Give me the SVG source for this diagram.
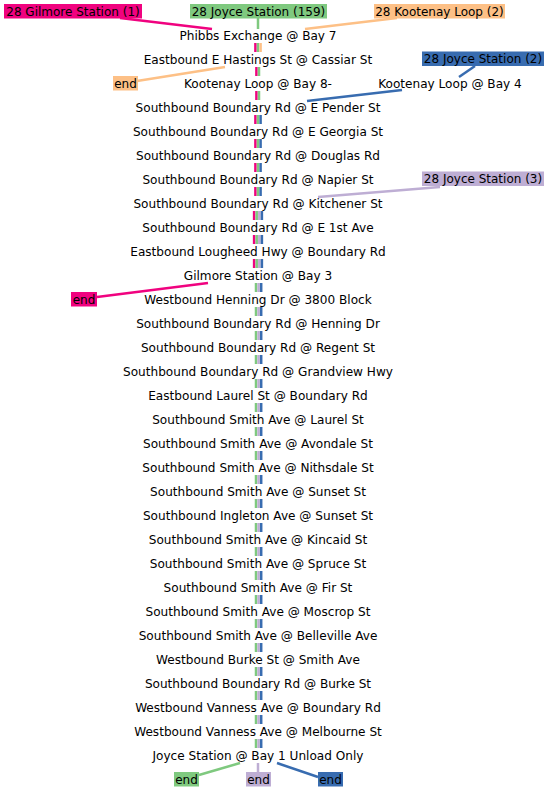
<svg xmlns="http://www.w3.org/2000/svg" width="550" height="792" viewBox="0 0 550 792">
<style>
text{font-family:"DejaVu Sans",sans-serif;font-size:12px;fill:#000;text-anchor:middle}
#stops text,#s-kootenay4 text{font-size:12.1px}
.pk{stroke:#f0027f}.gr{stroke:#7fc97f}.or{stroke:#fdc086}.bl{stroke:#386cb0}.pu{stroke:#beaed4}
.seg line{stroke-width:2.6}
.con line{stroke-width:2.5;fill:none}
.bpk{fill:#f0027f}.bgr{fill:#7fc97f}.bor{fill:#fdc086}.bbl{fill:#386cb0}.bpu{fill:#beaed4}
</style>
<rect width="550" height="792" fill="#fff"/>
<g id="connectors" class="con">
<line class="pk" x1="120" y1="18" x2="212" y2="29"/>
<line class="gr" x1="258" y1="18" x2="258" y2="29"/>
<line class="or" x1="397" y1="18" x2="305" y2="29"/>
<line class="or" x1="225" y1="67" x2="137" y2="81"/>
<line class="bl" x1="475" y1="66" x2="459" y2="77"/>
<line class="bl" x1="402" y1="90" x2="307" y2="101"/>
<line class="pu" x1="440" y1="187" x2="318" y2="197"/>
<line class="pk" x1="208" y1="283" x2="97" y2="297"/>
<line class="gr" x1="240" y1="763" x2="199" y2="775"/>
<line class="pu" x1="258" y1="763" x2="258" y2="773"/>
<line class="bl" x1="277" y1="763" x2="318" y2="777"/>
<g class="seg">
<line class="pk" x1="255.4" y1="43" x2="255.4" y2="52"/><line class="gr" x1="258" y1="43" x2="258" y2="52"/><line class="or" x1="260.6" y1="43" x2="260.6" y2="52"/>
<line class="pk" x1="256.4" y1="67" x2="256.4" y2="76"/><line class="gr" x1="259" y1="67" x2="259" y2="76"/>
<line class="pk" x1="256.4" y1="91" x2="256.4" y2="100"/><line class="gr" x1="259" y1="91" x2="259" y2="100"/>
<line class="pk" x1="255.4" y1="115" x2="255.4" y2="124"/><line class="gr" x1="258" y1="115" x2="258" y2="124"/><line class="bl" x1="260.6" y1="115" x2="260.6" y2="124"/>
<line class="pk" x1="255.4" y1="139" x2="255.4" y2="148"/><line class="gr" x1="258" y1="139" x2="258" y2="148"/><line class="bl" x1="260.6" y1="139" x2="260.6" y2="148"/>
<line class="pk" x1="255.4" y1="163" x2="255.4" y2="172"/><line class="gr" x1="258" y1="163" x2="258" y2="172"/><line class="bl" x1="260.6" y1="163" x2="260.6" y2="172"/>
<line class="pk" x1="255.4" y1="187" x2="255.4" y2="196"/><line class="gr" x1="258" y1="187" x2="258" y2="196"/><line class="bl" x1="260.6" y1="187" x2="260.6" y2="196"/>
<line class="pk" x1="254.1" y1="211" x2="254.1" y2="220"/><line class="gr" x1="256.7" y1="211" x2="256.7" y2="220"/><line class="pu" x1="259.3" y1="211" x2="259.3" y2="220"/><line class="bl" x1="261.9" y1="211" x2="261.9" y2="220"/>
<line class="pk" x1="254.1" y1="235" x2="254.1" y2="244"/><line class="gr" x1="256.7" y1="235" x2="256.7" y2="244"/><line class="pu" x1="259.3" y1="235" x2="259.3" y2="244"/><line class="bl" x1="261.9" y1="235" x2="261.9" y2="244"/>
<line class="pk" x1="254.1" y1="259" x2="254.1" y2="268"/><line class="gr" x1="256.7" y1="259" x2="256.7" y2="268"/><line class="pu" x1="259.3" y1="259" x2="259.3" y2="268"/><line class="bl" x1="261.9" y1="259" x2="261.9" y2="268"/>
</g>
<g class="seg" id="gpb">
<line class="gr" x1="256" y1="283" x2="256" y2="292"/><line class="pu" x1="258.6" y1="283" x2="258.6" y2="292"/><line class="bl" x1="261.2" y1="283" x2="261.2" y2="292"/>
</g>
<use href="#gpb" y="24"/><use href="#gpb" y="48"/><use href="#gpb" y="72"/><use href="#gpb" y="96"/>
<use href="#gpb" y="120"/><use href="#gpb" y="144"/><use href="#gpb" y="168"/><use href="#gpb" y="192"/>
<use href="#gpb" y="216"/><use href="#gpb" y="240"/><use href="#gpb" y="264"/><use href="#gpb" y="288"/>
<use href="#gpb" y="312"/><use href="#gpb" y="336"/><use href="#gpb" y="360"/><use href="#gpb" y="384"/>
<use href="#gpb" y="408"/><use href="#gpb" y="432"/><use href="#gpb" y="456"/>
</g>
<g id="l-gilmore1"><rect class="bpk" x="4" y="4" width="138" height="14.5"/><text x="73" y="15.5">28 Gilmore Station (1)</text></g>
<g id="l-joyce159"><rect class="bgr" x="190" y="4" width="137" height="14.5"/><text x="258.5" y="15.5">28 Joyce Station (159)</text></g>
<g id="l-kootenay2"><rect class="bor" x="374" y="4" width="131" height="14.5"/><text x="439.5" y="15.5">28 Kootenay Loop (2)</text></g>
<g id="l-joyce2"><rect class="bbl" x="422" y="51.5" width="122" height="14.5"/><text x="483" y="63">28 Joyce Station (2)</text></g>
<g id="l-joyce3"><rect class="bpu" x="422" y="171.5" width="122" height="14.5"/><text x="483" y="183">28 Joyce Station (3)</text></g>
<g id="e-orange"><rect class="bor" x="113" y="76" width="25" height="14.5"/><text x="125.5" y="87.5">end</text></g>
<g id="e-pink"><rect class="bpk" x="71" y="292" width="26" height="14.5"/><text x="84" y="303.5">end</text></g>
<g id="e-green"><rect class="bgr" x="174" y="772" width="25" height="14.5"/><text x="186.5" y="783.5">end</text></g>
<g id="e-purple"><rect class="bpu" x="246" y="772" width="25" height="14.5"/><text x="258.5" y="783.5">end</text></g>
<g id="e-blue"><rect class="bbl" x="318" y="772" width="25" height="14.5"/><text x="330.5" y="783.5">end</text></g>
<g id="s-kootenay4"><text x="450" y="87.5">Kootenay Loop @ Bay 4</text></g>
<g id="stops" transform="translate(0,0.5)">
<g id="s01"><text x="258" y="39">Phibbs Exchange @ Bay 7</text></g>
<g id="s02"><text x="258" y="63">Eastbound E Hastings St @ Cassiar St</text></g>
<g id="s03"><text x="258" y="87">Kootenay Loop @ Bay 8-</text></g>
<g id="s04"><text x="258" y="111">Southbound Boundary Rd @ E Pender St</text></g>
<g id="s05"><text x="258" y="135">Southbound Boundary Rd @ E Georgia St</text></g>
<g id="s06"><text x="258" y="159">Southbound Boundary Rd @ Douglas Rd</text></g>
<g id="s07"><text x="258" y="183">Southbound Boundary Rd @ Napier St</text></g>
<g id="s08"><text x="258" y="207">Southbound Boundary Rd @ Kitchener St</text></g>
<g id="s09"><text x="258" y="231">Southbound Boundary Rd @ E 1st Ave</text></g>
<g id="s10"><text x="258" y="255">Eastbound Lougheed Hwy @ Boundary Rd</text></g>
<g id="s11"><text x="258" y="279">Gilmore Station @ Bay 3</text></g>
<g id="s12"><text x="258" y="303">Westbound Henning Dr @ 3800 Block</text></g>
<g id="s13"><text x="258" y="327">Southbound Boundary Rd @ Henning Dr</text></g>
<g id="s14"><text x="258" y="351">Southbound Boundary Rd @ Regent St</text></g>
<g id="s15"><text x="258" y="375">Southbound Boundary Rd @ Grandview Hwy</text></g>
<g id="s16"><text x="258" y="399">Eastbound Laurel St @ Boundary Rd</text></g>
<g id="s17"><text x="258" y="423">Southbound Smith Ave @ Laurel St</text></g>
<g id="s18"><text x="258" y="447">Southbound Smith Ave @ Avondale St</text></g>
<g id="s19"><text x="258" y="471">Southbound Smith Ave @ Nithsdale St</text></g>
<g id="s20"><text x="258" y="495">Southbound Smith Ave @ Sunset St</text></g>
<g id="s21"><text x="258" y="519">Southbound Ingleton Ave @ Sunset St</text></g>
<g id="s22"><text x="258" y="543">Southbound Smith Ave @ Kincaid St</text></g>
<g id="s23"><text x="258" y="567">Southbound Smith Ave @ Spruce St</text></g>
<g id="s24"><text x="258" y="591">Southbound Smith Ave @ Fir St</text></g>
<g id="s25"><text x="258" y="615">Southbound Smith Ave @ Moscrop St</text></g>
<g id="s26"><text x="258" y="639">Southbound Smith Ave @ Belleville Ave</text></g>
<g id="s27"><text x="258" y="663">Westbound Burke St @ Smith Ave</text></g>
<g id="s28"><text x="258" y="687">Southbound Boundary Rd @ Burke St</text></g>
<g id="s29"><text x="258" y="711">Westbound Vanness Ave @ Boundary Rd</text></g>
<g id="s30"><text x="258" y="735">Westbound Vanness Ave @ Melbourne St</text></g>
<g id="s31"><text x="258" y="759">Joyce Station @ Bay 1 Unload Only</text></g>
</g>
</svg>
